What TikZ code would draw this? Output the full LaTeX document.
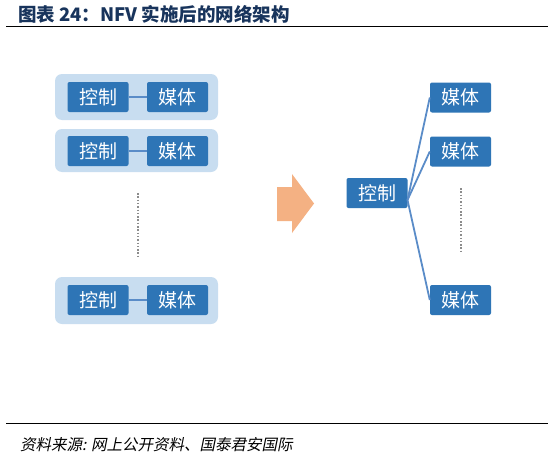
\documentclass[tikz,border=0pt]{standalone}
\usepackage{fontspec}
\newfontfamily\cjk{Noto Sans CJK SC}
\newfontfamily\cjkslant[FakeSlant=0.2]{Noto Sans CJK SC}
\definecolor{boxblue}{RGB}{46,117,182}
\definecolor{panelblue}{RGB}{200,221,240}
\definecolor{linkblue}{RGB}{90,140,200}
\definecolor{titlenavy}{RGB}{24,52,92}
\definecolor{arroworange}{RGB}{244,177,131}
\tikzset{
  unitbox/.style={draw=none,fill=boxblue,text=white,rounded corners=2pt,minimum width=61pt,minimum height=30pt,inner sep=0pt,font=\cjk\fontsize{19}{19}\selectfont},
  panel/.style={fill=panelblue,rounded corners=7pt},
  link/.style={draw=linkblue,line width=1.8pt},
  dots/.style={draw=gray!90,line width=2pt,dash pattern=on 1.5pt off 1.8pt}
}
\begin{document}
\begin{tikzpicture}[x=1pt,y=-1pt]
\useasboundingbox[fill=white] (0,0) rectangle (554,463);
% title
\node[anchor=west,text=titlenavy,font=\cjk\bfseries\fontsize{18.5}{18.5}\selectfont,inner sep=0pt] (title) at (18,14) {图表 24：NFV 实施后的网络架构};
\draw[line width=1.6pt] (6,26.5) -- (548,26.5);
% left side
\fill[panel] (55,74) rectangle (218,120);
\fill[panel] (55,129) rectangle (218,172);
\fill[panel] (55,277) rectangle (218,324);
\node[unitbox] (lc1) at (98,97) {控制};
\node[unitbox] (lm1) at (177.5,97) {媒体};
\node[unitbox] (lc2) at (98,151) {控制};
\node[unitbox] (lm2) at (177.5,151) {媒体};
\node[unitbox] (lc3) at (98,300) {控制};
\node[unitbox] (lm3) at (177.5,300) {媒体};
\draw[link] (lc1) -- (lm1);
\draw[link] (lc2) -- (lm2);
\draw[link] (lc3) -- (lm3);
\coordinate (ldtop) at (138,193);
\coordinate (ldbot) at (138,257);
\draw[dots] (ldtop) -- (ldbot);
% arrow
\fill[arroworange] (277,187) -- (292,187) -- (292,174) -- (314,203.5) -- (292,233) -- (292,221) -- (277,221) -- cycle;
% right side
\node[unitbox] (rc) at (377,193) {控制};
\node[unitbox] (rm1) at (460.5,97.5) {媒体};
\node[unitbox] (rm2) at (460.5,151.5) {媒体};
\node[unitbox] (rm3) at (460.5,300) {媒体};
\coordinate (hub) at (407.5,200);
\draw[link] (hub) -- (rm1.west);
\draw[link] (hub) -- (rm2.west);
\draw[link] (hub) -- (rm3.west);
\coordinate (rdtop) at (461,188);
\coordinate (rdbot) at (461,253);
\draw[dots] (rdtop) -- (rdbot);
% source
\draw[line width=1.6pt] (6,423.5) -- (548,423.5);
\node[anchor=west,font=\cjkslant\fontsize{15.5}{15.5}\selectfont,inner sep=0pt] (src) at (20,445) {资料来源: 网上公开资料、国泰君安国际};
\end{tikzpicture}
\end{document}
